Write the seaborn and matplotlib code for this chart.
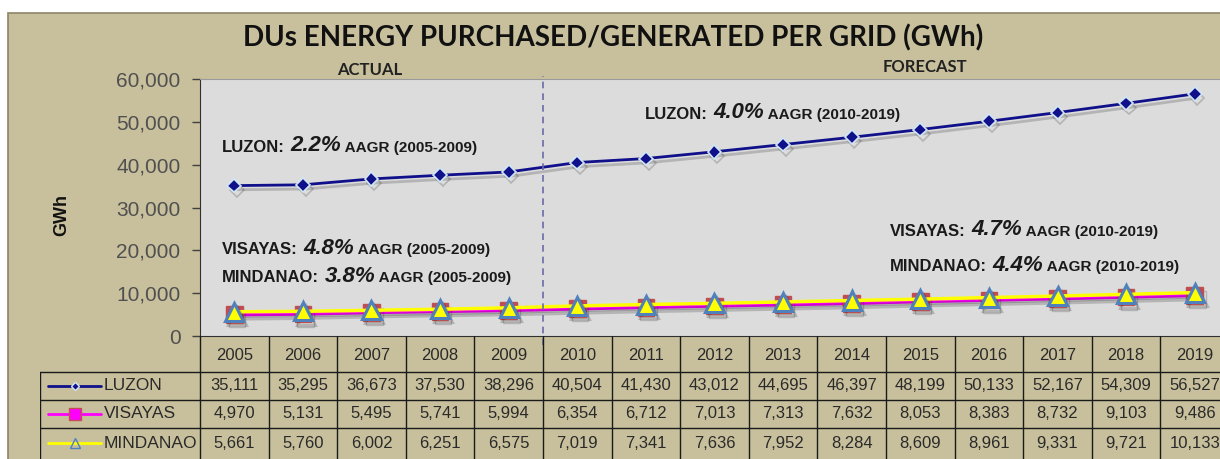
import numpy as np
import pandas as pd
import matplotlib
matplotlib.use("Agg")
import matplotlib.pyplot as plt
import matplotlib.patheffects as pe
from matplotlib.patches import Rectangle
from matplotlib.ticker import FuncFormatter
import seaborn as sns

years = [2005, 2006, 2007, 2008, 2009, 2010, 2011, 2012, 2013, 2014, 2015, 2016, 2017, 2018, 2019]
luzon = [35111, 35295, 36673, 37530, 38296, 40504, 41430, 43012, 44695, 46397, 48199, 50133, 52167, 54309, 56527]
visayas = [4970, 5131, 5495, 5741, 5994, 6354, 6712, 7013, 7313, 7632, 8053, 8383, 8732, 9103, 9486]
mindanao = [5661, 5760, 6002, 6251, 6575, 7019, 7341, 7636, 7952, 8284, 8609, 8961, 9331, 9721, 10133]
series_names = ["LUZON", "VISAYAS", "MINDANAO"]

# growth-rate notes: (grid, rate, period)
notes_actual = [("LUZON:", "2.2%", " AAGR (2005-2009)"),
                ("VISAYAS:", "4.8%", " AAGR (2005-2009)"),
                ("MINDANAO:", "3.8%", " AAGR (2005-2009)")]
notes_forecast = [("LUZON:", "4.0%", " AAGR (2010-2019)"),
                  ("VISAYAS:", "4.7%", " AAGR (2010-2019)"),
                  ("MINDANAO:", "4.4%", " AAGR (2010-2019)")]

df = pd.DataFrame({"idx": np.arange(len(years)), "LUZON": luzon,
                   "VISAYAS": visayas, "MINDANAO": mindanao})

sns.set_style("white")
plt.rcParams["font.family"] = ["Liberation Sans", "DejaVu Sans"]
NARROW = ["Liberation Sans Narrow", "Liberation Sans", "DejaVu Sans"]

W, H = 1220, 459
COLW = 68.6
KHAKI = "#C8C09C"

fig = plt.figure(figsize=(W / 100, H / 100), dpi=100)
fig.patch.set_facecolor("white")
fig.patches.append(Rectangle((8 / W, -0.01), 1.0, (H - 13) / H + 0.01, transform=fig.transFigure,
                             facecolor=KHAKI, edgecolor="#8C8566", lw=1.2, zorder=-10))

def px2x(px):
    return (px - 200) / COLW - 0.5

ax = fig.add_axes([200 / W, (H - 336) / H, (W - 200) / W, (336 - 79) / H])
ax.set_facecolor("#DCDCDC")

shadow = [pe.SimpleLineShadow(offset=(2, -3), shadow_color="black", alpha=0.18), pe.Normal()]

styles = {
    "LUZON": dict(color="#10108A", marker="D", markersize=7, markerfacecolor="#10108A",
                  markeredgecolor="#CFE6F7", markeredgewidth=1.2, lw=2),
    "VISAYAS": dict(color="#FF00FF", marker="s", markersize=12, markerfacecolor="#C04A5A",
                    markeredgecolor="#C0504D", markeredgewidth=1, lw=2.5),
    "MINDANAO": dict(color="#FFFF00", marker="^", markersize=13, markerfacecolor="#FFFF00",
                     markeredgecolor="#4F81BD", markeredgewidth=2.2, lw=2.5),
}
for name in series_names:
    sns.lineplot(data=df, x="idx", y=name, ax=ax, path_effects=shadow, **styles[name])

ax.set_xlim(-0.5, px2x(W))
ax.set_ylim(0, 60000)
ax.set_xticks([])
ax.set_xlabel("")
ax.set_ylabel("")
ax.set_yticks(np.arange(0, 60001, 10000))
ax.yaxis.set_major_formatter(FuncFormatter(lambda v, p: f"{int(v):,}"))
ax.tick_params(axis="y", direction="out", length=6, width=1, color="#404040",
               labelsize=15, labelcolor="#505050", pad=8, left=True)
for s in ["left", "bottom"]:
    ax.spines[s].set_color("#303030")
ax.spines["top"].set_color("#9A9A9A")
ax.spines["right"].set_visible(False)

# actual / forecast divider
ax.axvline(4.5, ymin=-0.035, ymax=1.01, color="#6A6AA8", ls=(0, (4, 3)), lw=1.2, clip_on=False)

def note(x, y, parts):
    grid, rate, period = parts
    t = ax.text(x, y, grid, fontsize=12, fontweight="bold", family=NARROW, color="#1A1A1A",
                ha="left", va="center")
    t2 = ax.annotate(rate, xy=(1, 0), xycoords=t, xytext=(4, -1), textcoords="offset points",
                     fontsize=16, fontweight="bold", style="italic", color="#1A1A1A",
                     ha="left", va="bottom")
    ax.annotate(period, xy=(1, 0), xycoords=t2, xytext=(0, 1), textcoords="offset points",
                fontsize=11, fontweight="bold", family=NARROW, color="#1A1A1A",
                ha="left", va="bottom")

note(px2x(222), 44060, notes_actual[0])
note(px2x(222), 20160, notes_actual[1])
note(px2x(222), 13590, notes_actual[2])
note(px2x(645), 51800, notes_forecast[0])
note(px2x(890), 24375, notes_forecast[1])
note(px2x(890), 16170, notes_forecast[2])

fig.text(613 / W, 1 - 38 / H, "DUs ENERGY PURCHASED/GENERATED PER GRID (GWh)",
         fontsize=20, fontweight="bold", family=["Lato", "DejaVu Sans"], color="#111111",
         ha="center", va="center")
fig.text(370 / W, 1 - 70 / H, "ACTUAL", fontsize=12, fontweight="bold",
         family=["Lato", "DejaVu Sans"], color="#222222", ha="center", va="center")
fig.text(925 / W, 1 - 67 / H, "FORECAST", fontsize=12, fontweight="bold",
         family=["Lato", "DejaVu Sans"], color="#222222", ha="center", va="center")
fig.text(62 / W, 1 - 215 / H, "GWh", fontsize=13, fontweight="bold", rotation=90,
         color="#111111", ha="center", va="center")

# data table underneath, sharing the x scale of the chart
tax = fig.add_axes([40 / W, 0, (W - 40) / W, (H - 336) / H])
tax.set_xlim(px2x(40), px2x(W))
tax.set_ylim(H, 336)
tax.axis("off")
tax.patch.set_alpha(0)

row_edges = [372, 400, 428]
row_mid = [386, 414, 443]
xl = px2x(40)
lc = "#1A1A1A"
for k in range(len(years) + 1):
    tax.plot([k - 0.5, k - 0.5], [336, H], color=lc, lw=1)
tax.plot([xl, xl], [372, H], color=lc, lw=1)
for ye in row_edges:
    tax.plot([xl, px2x(W)], [ye, ye], color=lc, lw=1)

for i, yr in enumerate(years):
    tax.text(i, 355, str(yr), fontsize=12, color="#2A2A2A", ha="center", va="center")
for vals, ym in zip([luzon, visayas, mindanao], row_mid):
    for i, v in enumerate(vals):
        tax.text(i, ym, f"{v:,}", fontsize=12, color="#2A2A2A", ha="center", va="center")

for name, ym in zip(series_names, row_mid):
    st = styles[name]
    tax.plot([px2x(48), px2x(101)], [ym, ym], color=st["color"], lw=2)
    ms = {"LUZON": 4, "VISAYAS": 8, "MINDANAO": 7}[name]
    mfc = {"LUZON": "#10108A", "VISAYAS": "#FF00FF", "MINDANAO": "none"}[name]
    tax.plot([px2x(75)], [ym], marker=st["marker"], markersize=ms, markerfacecolor=mfc,
             markeredgecolor=st["markeredgecolor"], markeredgewidth=1, color=st["color"])
    tax.text(px2x(104), ym, name, fontsize=12.5, color="#2A2A2A", ha="left", va="center")

fig.savefig("out.png", dpi=100)
